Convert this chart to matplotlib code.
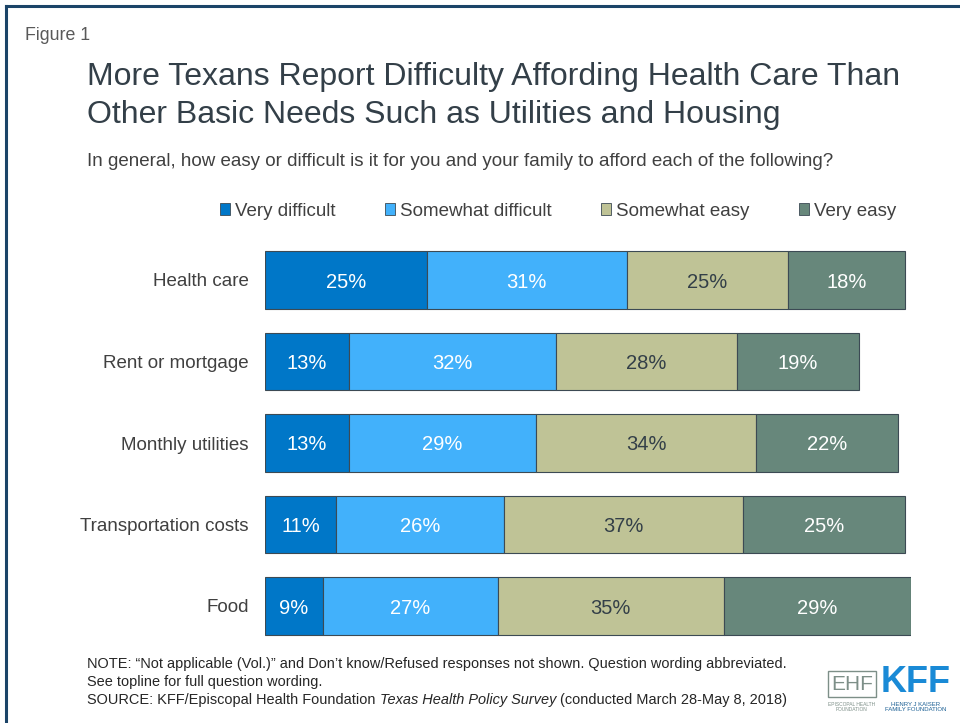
import matplotlib
matplotlib.use("Agg")
import matplotlib.pyplot as plt
from matplotlib.patches import Patch
from matplotlib.lines import Line2D
import numpy as np

plt.rcParams['font.family'] = ['Liberation Sans', 'DejaVu Sans']

categories = ['Health care', 'Rent or mortgage', 'Monthly utilities',
              'Transportation costs', 'Food']
series_names = ['Very difficult', 'Somewhat difficult', 'Somewhat easy', 'Very easy']
very_difficult = [25, 13, 13, 11, 9]
somewhat_difficult = [31, 32, 29, 26, 27]
somewhat_easy = [25, 28, 34, 37, 35]
very_easy = [18, 19, 22, 25, 29]

colors = ['#0077c8', '#42b1fb', '#bfc396', '#67877b']
label_colors = ['white', 'white', '#333f48', 'white']
text_dark = '#333f48'

fig = plt.figure(figsize=(9.6, 7.23), dpi=100)
W, H = 960, 723

# frame lines (top and left)
fig.add_artist(Line2D([6 / W, 1], [1 - 6 / H, 1 - 6 / H], color='#1b4468', lw=2.2,
                      transform=fig.transFigure))
fig.add_artist(Line2D([6 / W, 6 / W], [0, 1 - 6 / H], color='#1b4468', lw=2.2,
                      transform=fig.transFigure))

fig.text(25 / W, 1 - 33 / H, 'Figure 1', fontsize=12.8, color='#595959', va='center_baseline')
fig.text(87 / W, 1 - 74 / H, 'More Texans Report Difficulty Affording Health Care Than',
         fontsize=23, color=text_dark, va='center_baseline')
fig.text(87 / W, 1 - 111 / H, 'Other Basic Needs Such as Utilities and Housing',
         fontsize=23, color=text_dark, va='center_baseline')
fig.text(87 / W, 1 - 159 / H,
         'In general, how easy or difficult is it for you and your family to afford each of the following?',
         fontsize=13.5, color='#404040', va='center_baseline')

ax = fig.add_axes([265 / W, 1 - 646.75 / H, (911 - 265) / W, 407.5 / H])
data = [very_difficult, somewhat_difficult, somewhat_easy, very_easy]
y = np.arange(len(categories))
left = np.zeros(len(categories))
for vals, c, lc in zip(data, colors, label_colors):
    vals = np.array(vals, dtype=float)
    ax.barh(y, vals, left=left, height=0.71, color=c, edgecolor='#3c4a54', linewidth=0.8)
    for yi, (l, v) in enumerate(zip(left, vals)):
        ax.text(l + v / 2, yi, f'{int(v)}%', ha='center', va='center_baseline',
                fontsize=14.5, color=lc)
    left += vals

ax.set_xlim(0, 100)
ax.set_ylim(len(categories) - 0.5, -0.5)
ax.set_yticks(y)
ax.set_yticklabels(categories, fontsize=13.5, color='#404040')
ax.tick_params(axis='y', length=0, pad=11.7)
ax.set_xticks([])
for s in ax.spines.values():
    s.set_visible(False)

handles = [Patch(facecolor=c, edgecolor='#3c4a54', linewidth=0.6) for c in colors]
fig.legend(handles, series_names, loc='center left', bbox_to_anchor=(220 / W, 1 - 211 / H),
           ncol=4, frameon=False, fontsize=13.5, handlelength=0.55, handleheight=0.55,
           handletextpad=0.25, columnspacing=2.64, labelcolor='#404040',
           borderaxespad=0, borderpad=0)

# notes
note_fs = 10.45
fig.text(87 / W, 1 - 664 / H,
         'NOTE: \u201cNot applicable (Vol.)\u201d and Don\u2019t know/Refused responses not shown. Question wording abbreviated.',
         fontsize=note_fs, color='#262626', va='center')
fig.text(87 / W, 1 - 682 / H, 'See topline for full question wording.',
         fontsize=note_fs, color='#262626', va='center')
t1 = fig.text(87 / W, 1 - 700 / H, 'SOURCE: KFF/Episcopal Health Foundation ',
              fontsize=note_fs, color='#262626', va='center')
fig.canvas.draw()
r = fig.canvas.get_renderer()
x1 = t1.get_window_extent(r).x1
t2 = fig.text(x1 / W, 1 - 700 / H, 'Texas Health Policy Survey', fontsize=note_fs,
              style='italic', color='#262626', va='center')
x2 = t2.get_window_extent(r).x1
fig.text(x2 / W, 1 - 700 / H, ' (conducted March 28-May 8, 2018)', fontsize=note_fs,
         color='#262626', va='center')

# logos
fig.text(852 / W, 1 - 684 / H, 'EHF', fontsize=15, color='#7d8f88', ha='center', va='center',
         bbox=dict(boxstyle='square,pad=0.15', fc='white', ec='#7d8f88', lw=1))
fig.text(852 / W, 1 - 707 / H, 'EPISCOPAL HEALTH\nFOUNDATION', fontsize=3.5, color='#7d8f88',
         ha='center', va='center', linespacing=1.1)
fig.text(916 / W, 1 - 682 / H, 'KFF', fontsize=26, fontweight='bold', color='#1a8ad6',
         ha='center', va='center')
fig.text(916 / W, 1 - 707 / H, 'HENRY J KAISER\nFAMILY FOUNDATION', fontsize=4.3, color='#1a5f94',
         ha='center', va='center', linespacing=1.1)

fig.savefig('out.png', dpi=100)
